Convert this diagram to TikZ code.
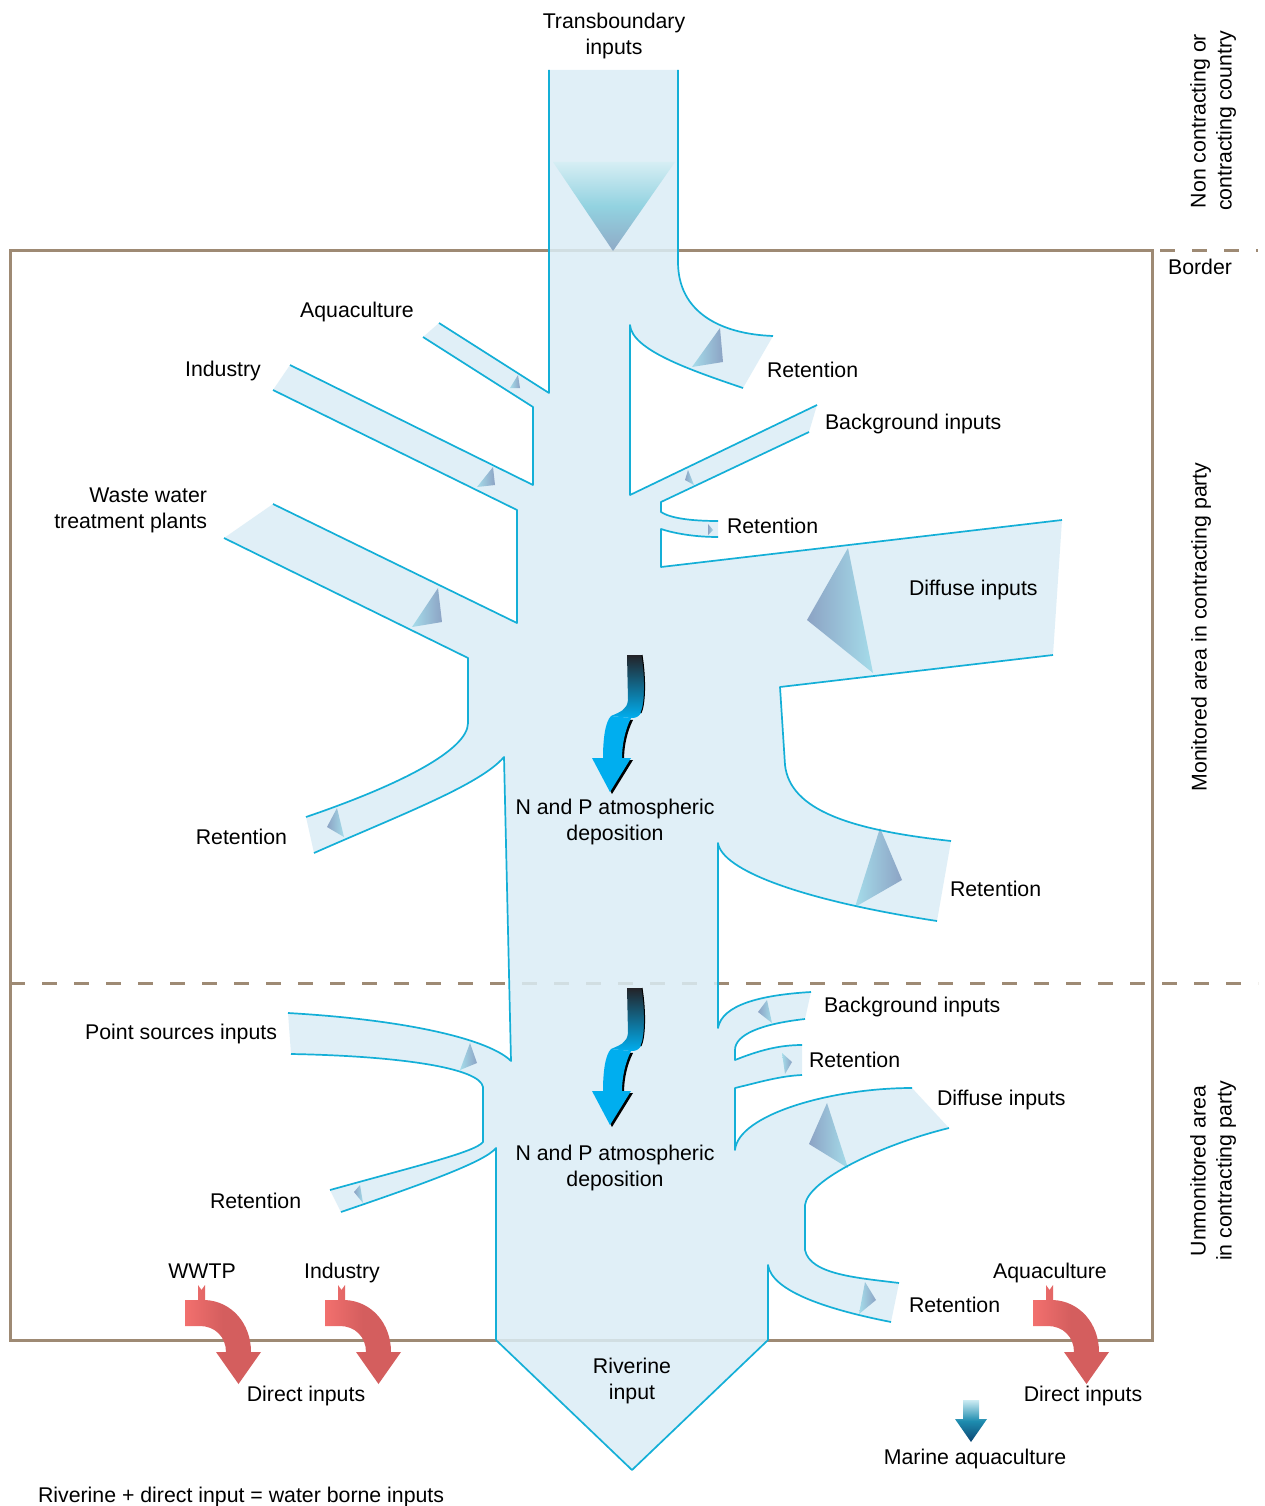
\documentclass[tikz,border=0pt]{standalone}
\usepackage{fontspec}
\setmainfont{Liberation Sans}
\definecolor{riverfill}{RGB}{219,237,246}
\definecolor{riveredge}{RGB}{20,175,215}
\definecolor{bordercol}{RGB}{158,138,116}
\definecolor{markdark}{RGB}{140,163,196}
\definecolor{marklight}{RGB}{165,220,234}
\definecolor{trilight}{RGB}{214,238,244}
\definecolor{trimid}{RGB}{146,210,224}
\definecolor{tridark}{RGB}{143,170,198}
\definecolor{atmcyan}{RGB}{0,174,239}
\definecolor{atmdark}{RGB}{35,35,40}
\definecolor{redmain}{RGB}{212,94,94}
\definecolor{redlight}{RGB}{242,112,110}
\definecolor{marinetop}{RGB}{205,236,243}
\definecolor{marinemid}{RGB}{30,140,175}
\definecolor{marinebot}{RGB}{12,70,115}

\newcommand{\rivershape}[1]{%
(549,70) #1 (678,70) -- (678,262)
.. controls (678,312) and (720,334) .. (773,336) #1 (743,388)
.. controls (690,370) and (632,350) .. (630,325) -- (630,495) -- (817,405) #1 (809,432)
-- (661,502) -- (661,512) .. controls (670,518) and (690,521) .. (718,521) #1 (718,537)
.. controls (690,537) and (670,532) .. (661,529) -- (661,567) -- (1062,520) #1 (1053,655)
-- (780,687) -- (785,765) .. controls (790,810) and (850,830) .. (951,841) #1 (937,921)
.. controls (800,900) and (722,870) .. (718,843) -- (718,1028)
.. controls (722,1005) and (760,995) .. (811,992) #1 (805,1019)
.. controls (760,1024) and (735,1035) .. (735,1050) -- (735,1060)
.. controls (760,1050) and (780,1045) .. (802,1045) #1 (802,1075)
.. controls (780,1076) and (760,1082) .. (735,1088) -- (735,1150)
.. controls (738,1115) and (830,1088) .. (912,1088) #1 (949,1128)
.. controls (880,1145) and (808,1180) .. (805,1205) -- (805,1250)
.. controls (810,1275) and (860,1278) .. (899,1283) #1 (891,1322)
.. controls (830,1310) and (772,1292) .. (768,1265) -- (768,1340) -- (632,1470) -- (496,1340) -- (496,1148)
.. controls (485,1162) and (420,1185) .. (341,1212) #1 (330,1190)
.. controls (420,1165) and (475,1152) .. (483,1142) -- (483,1087)
.. controls (480,1068) and (400,1056) .. (291,1054) #1 (288,1013)
.. controls (410,1020) and (490,1040) .. (511,1061) -- (504,757)
.. controls (480,785) and (400,815) .. (314,853) #1 (306,817)
.. controls (400,785) and (468,750) .. (468,723) -- (468,658) -- (224,538) #1 (273,504)
-- (517,623) -- (517,510) -- (273,390) #1 (290,365) -- (533,485) -- (533,407) -- (423,337) #1 (439,323) -- (549,393)}

\newcommand{\mkR}[3]{\shade[left color=marklight, right color=markdark] #1 -- #2 -- #3 -- cycle;}
\newcommand{\mkL}[3]{\shade[left color=markdark, right color=marklight] #1 -- #2 -- #3 -- cycle;}

\newcommand{\atmarrow}{%
 \fill[black] (613,718) -- (633,720) .. controls (627,732) and (624,746) .. (624,760) -- (633,760) -- (612,794) -- (594,760) -- (605,760) .. controls (605,742) and (607,724) .. (613,718) -- cycle;
 \fill[atmcyan] (611,716) -- (631,718) .. controls (625,730) and (622,745) .. (622,758) -- (631,758) -- (610,792) -- (592,758) -- (603,758) .. controls (603,740) and (605,722) .. (611,716) -- cycle;
 \shade[top color=atmdark, bottom color=atmcyan] (627,655) -- (642,655) .. controls (646,680) and (645,705) .. (641,713) .. controls (638,718) and (634,718) .. (631,718) -- (611,716) .. controls (620,712) and (627,710) .. (628,700) -- cycle;
 \draw[black, line width=1pt] (642,655) .. controls (646,680) and (645,705) .. (641,713);
}

\newcommand{\redarrow}{%
 \shade[left color=redlight, right color=redmain, middle color=redmain] (185,1300) -- (198,1300) -- (198,1285) -- (201.5,1290) -- (205,1285) -- (205,1300) .. controls (231,1301) and (251,1323) .. (251,1352) -- (261,1352) -- (238.5,1384) -- (216,1352) -- (226,1352) .. controls (226,1337) and (215,1326) .. (200,1326) -- (185,1326) -- cycle;
}

\begin{document}
\begin{tikzpicture}[x=1pt,y=-1pt, font=\fontsize{21.3}{26}\selectfont,
  lbl/.style={inner sep=0pt, outer sep=0pt, text=black},
  riverstroke/.style={draw=riveredge, line width=1.7pt, line join=round},
  borderline/.style={draw=bordercol, line width=3pt},
  borderdash/.style={draw=bordercol, line width=3pt, dash pattern=on 15pt off 17pt},
]
\useasboundingbox (0,0) rectangle (1265,1506);
\fill[white] (0,0) rectangle (1265,1506);

% borders
\draw[borderline] (10,251) rectangle (1152,1340);
\draw[borderdash] (1160,251) -- (1258,251);
\draw[borderdash] (10,983) -- (1258,983);

% river
\fill[riverfill, fill opacity=0.85] \rivershape{--} -- cycle;

% top triangle
\shade[top color=trilight, bottom color=tridark, middle color=trimid] (553,162) -- (675,162) -- (613,251) -- cycle;

% markers
\mkR{(510,388)}{(518,375)}{(520,388)}
\mkR{(477,487)}{(493,467)}{(495,485)}
\mkR{(412,627)}{(438,588)}{(442,622)}
\mkL{(327,827)}{(337,808)}{(344,837)}
\mkR{(692,367)}{(720,328)}{(723,362)}
\mkL{(685,480)}{(688,470)}{(694,485)}
\mkL{(708,524)}{(713,530)}{(708,535)}
\mkL{(807,620)}{(848,548)}{(873,673)}
\mkR{(880,828)}{(902,880)}{(855,907)}
\mkL{(758,1012)}{(767,1000)}{(772,1023)}
\mkR{(782,1053)}{(792,1062)}{(785,1074)}
\mkL{(827,1103)}{(809,1144)}{(848,1168)}
\mkR{(865,1282)}{(876,1300)}{(859,1314)}
\mkR{(470,1043)}{(477,1063)}{(460,1070)}
\mkL{(360,1185)}{(354,1192)}{(363,1203)}

% river outline
\draw[riverstroke] \rivershape{} -- (549,70);

% atmospheric deposition arrows
\begin{scope}\atmarrow\end{scope}
\begin{scope}[shift={(0,333)}]\atmarrow\end{scope}

% direct input arrows
\begin{scope}\redarrow\end{scope}
\begin{scope}[shift={(140,0)}]\redarrow\end{scope}
\begin{scope}[shift={(848,0)}]\redarrow\end{scope}

% marine aquaculture arrow
\shade[top color=marinetop, bottom color=marinebot, middle color=marinemid] (963,1400) -- (979,1400) -- (979,1419) -- (987,1419) -- (971,1442) -- (955,1419) -- (963,1419) -- cycle;

% texts
\node[lbl, align=center] (ttrans) at (614,36) {Transboundary\\inputs};
\node[lbl, align=center, rotate=90] (tnon) at (1213,121) {Non contracting or\\contracting country};
\node[lbl, anchor=base] (tborder) at (1200,274.5) {Border};
\node[lbl, rotate=90] (tmon) at (1201,627) {Monitored area in contracting party};
\node[lbl, align=center, rotate=90] (tunmon) at (1213,1171) {Unmonitored area\\in contracting party};
\node[lbl, anchor=base] (taqua1) at (357,317.5) {Aquaculture};
\node[lbl, anchor=base] (tind1) at (223,376.5) {Industry};
\node[lbl, align=right, anchor=east] (twwtp1) at (207,510) {Waste water\\treatment plants};
\node[lbl, anchor=base west] (tret1) at (767,377.5) {Retention};
\node[lbl, anchor=base west] (tbg1) at (825,429.5) {Background inputs};
\node[lbl, anchor=base west] (tret2) at (727,533.5) {Retention};
\node[lbl, anchor=base west] (tdiff1) at (909,595.5) {Diffuse inputs};
\node[lbl, align=center] (tatm1) at (615,822) {N and P atmospheric\\deposition};
\node[lbl, anchor=base east] (tret3) at (287,844.5) {Retention};
\node[lbl, anchor=base west] (tret4) at (950,896.5) {Retention};
\node[lbl, anchor=base east] (tpoint) at (277,1039.5) {Point sources inputs};
\node[lbl, anchor=base west] (tbg2) at (824,1012.5) {Background inputs};
\node[lbl, anchor=base west] (tret5) at (809,1067.5) {Retention};
\node[lbl, anchor=base west] (tdiff2) at (937,1105.5) {Diffuse inputs};
\node[lbl, align=center] (tatm2) at (615,1168) {N and P atmospheric\\deposition};
\node[lbl, anchor=base west] (tret6) at (210,1208.5) {Retention};
\node[lbl, anchor=base] (twwtp2) at (202,1278.5) {WWTP};
\node[lbl, anchor=base] (tind2) at (342,1278.5) {Industry};
\node[lbl, anchor=base] (taqua2) at (1050,1278.5) {Aquaculture};
\node[lbl, anchor=base west] (tret7) at (909,1312.5) {Retention};
\node[lbl, align=center] (triv) at (632,1381) {Riverine\\input};
\node[lbl, anchor=base] (tdir1) at (306,1401.5) {Direct inputs};
\node[lbl, anchor=base] (tdir2) at (1083,1401.5) {Direct inputs};
\node[lbl, anchor=base] (tmarine) at (975,1464.5) {Marine aquaculture};
\node[lbl, anchor=base west] (tsum) at (38,1502.5) {Riverine + direct input = water borne inputs};
\end{tikzpicture}
\end{document}
